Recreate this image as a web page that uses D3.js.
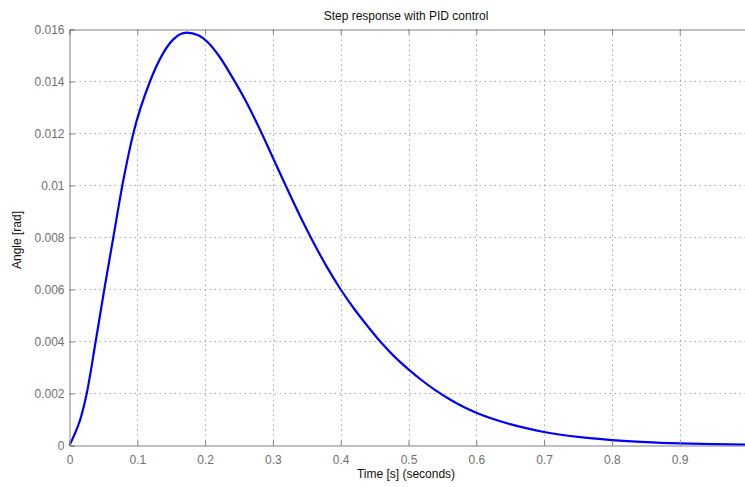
<!DOCTYPE html>
<html><head><meta charset="utf-8">
<script src="https://cdn.jsdelivr.net/npm/d3@7"></script>
<style>
html,body{margin:0;padding:0;background:#fff;overflow:hidden;}
svg{display:block;font-family:"Liberation Sans",Arial,sans-serif;}
</style></head>
<body>
<svg id="chart" width="745" height="487"></svg>
<script>
const title = "Step response with PID control";
const xLabel = "Time [s] (seconds)";
const yLabel = "Angle [rad]";
const xTicks = [0,0.1,0.2,0.3,0.4,0.5,0.6,0.7,0.8,0.9];
const yTicks = [0,0.002,0.004,0.006,0.008,0.01,0.012,0.014,0.016];
const timeValues = [0,0.0056,0.0155,0.0254,0.0386,0.0513,0.0646,0.0794,0.0941,0.1187,0.1384,0.1531,0.1728,0.19,0.205,0.22,0.24,0.26,0.28,0.3,0.32,0.34,0.36,0.38,0.4,0.42,0.44,0.46,0.48,0.5,0.52,0.54,0.56,0.58,0.6,0.65,0.7,0.75,0.8,0.85,0.9,0.95,1.0];
const angleValues = [0,0.00032,0.00097,0.002,0.004,0.006,0.008,0.0102,0.012,0.014,0.0151,0.01562,0.01588,0.01578,0.01548,0.015,0.01417,0.01325,0.0122,0.01107,0.00993,0.00883,0.0078,0.00685,0.006,0.00525,0.00458,0.00395,0.0034,0.00293,0.0025,0.00212,0.00179,0.0015,0.00126,0.00082,0.00052,0.00033,0.00021,0.00013,0.00008,0.00005,0.00003];

(function(){
const svg = d3.select("#chart");
const L = 69.5, R = 747.5, T = 29.5, B = 445.5;
const x = d3.scaleLinear().domain([0,1]).range([L,R]);
const y = d3.scaleLinear().domain([0,0.016]).range([B,T]);
const axisCol = "#808080", gridCol = "#a8a8a8", tickText = "#707070";

// grid
const g = svg.append("g");
g.selectAll(".vg").data(xTicks.filter(d=>d>0)).enter().append("line")
  .attr("x1",d=>Math.round(x(d))+0.5).attr("x2",d=>Math.round(x(d))+0.5)
  .attr("y1",T).attr("y2",B)
  .attr("stroke",gridCol).attr("stroke-width",1).attr("stroke-dasharray","1.5,3.5");
g.selectAll(".hg").data(yTicks.filter(d=>d>0 && d<0.016)).enter().append("line")
  .attr("y1",d=>Math.round(y(d)-0.5)+0.5).attr("y2",d=>Math.round(y(d)-0.5)+0.5)
  .attr("x1",L).attr("x2",R)
  .attr("stroke",gridCol).attr("stroke-width",1).attr("stroke-dasharray","1.5,3.5");

// curve
const pts = timeValues.map((t,i)=>[t,angleValues[i]]);
svg.append("defs").append("clipPath").attr("id","clip").append("rect")
  .attr("x",L-2).attr("y",T-2).attr("width",R-L+4).attr("height",B-T+4);
svg.append("path").datum(pts)
  .attr("clip-path","url(#clip)")
  .attr("d",d3.line().x(d=>x(d[0])).y(d=>y(d[1])).curve(d3.curveMonotoneX))
  .attr("fill","none").attr("stroke","#0000ff").attr("stroke-width",2.2)
  .attr("stroke-linejoin","round");

// axes
const axB = svg.append("g").attr("transform",`translate(0,${B})`)
  .call(d3.axisBottom(x).tickValues(xTicks).tickSize(-5).tickPadding(10).tickFormat(d3.format("")));
const axT = svg.append("g").attr("transform",`translate(0,${T})`)
  .call(d3.axisTop(x).tickValues(xTicks).tickSize(-5).tickFormat(""));
const axL = svg.append("g").attr("transform",`translate(${L},0)`)
  .call(d3.axisLeft(y).tickValues(yTicks).tickSize(-5).tickPadding(5)
    .tickFormat(d=>d===0?"0":(d===0.01?"0.01":d3.format(".3f")(d))));
[axB,axT,axL].forEach(a=>{
  a.select(".domain").attr("stroke",axisCol);
  a.selectAll(".tick line").attr("stroke",axisCol);
  a.selectAll(".tick text").attr("fill",tickText).style("font-size","12px")
   .style("font-family",'"Liberation Sans",Arial,sans-serif');
});

// labels
svg.append("text").attr("x",406).attr("y",20).attr("text-anchor","middle")
  .style("font-size","12px").attr("fill","#111").text(title);
svg.append("text").attr("x",406).attr("y",478).attr("text-anchor","middle")
  .style("font-size","12px").attr("fill","#111").text(xLabel);
svg.append("text").attr("transform","translate(21,240) rotate(-90)").attr("text-anchor","middle")
  .style("font-size","12px").attr("fill","#111").text(yLabel);
})();
</script>
</body></html>
